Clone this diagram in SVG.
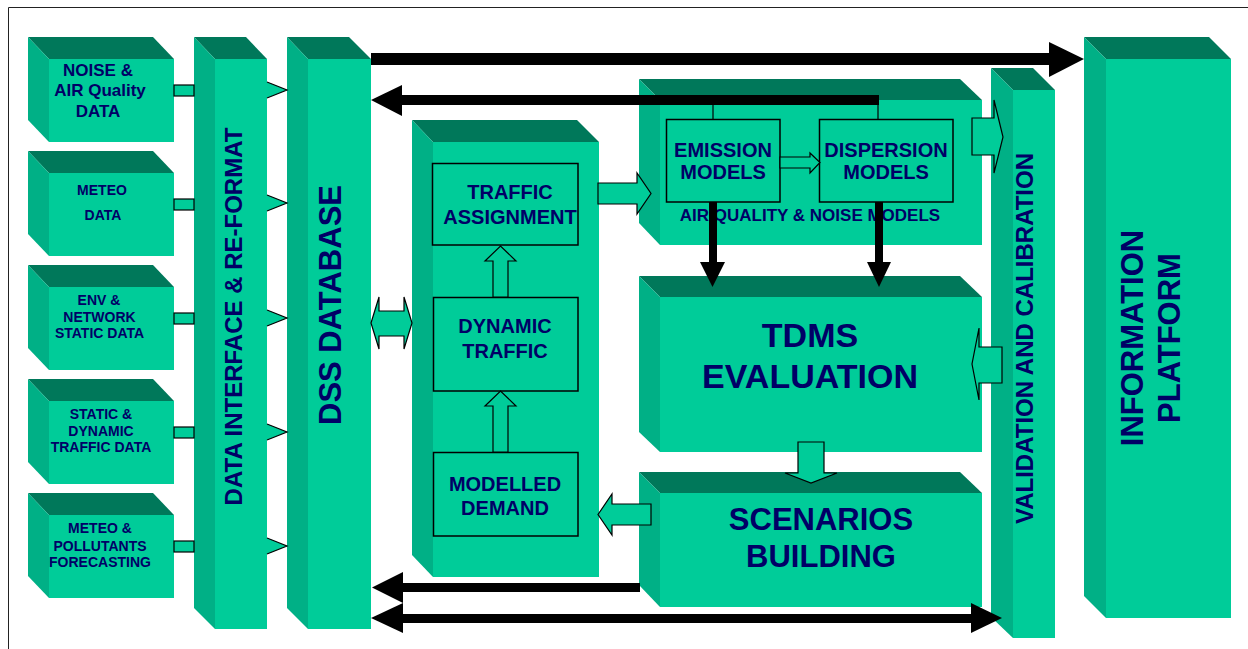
<svg xmlns="http://www.w3.org/2000/svg" width="1248" height="649" viewBox="0 0 1248 649">
<style>
.front{fill:#00CC99}
.top{fill:#00785A}
.side{fill:#00B086}
.inner{fill:#00CC99;stroke:#000;stroke-width:1.5}
.t{font-family:"Liberation Sans",Arial,sans-serif;font-weight:bold;fill:#000066;text-anchor:middle}
.ba{fill:#00CC99;stroke:#000;stroke-width:1.2;stroke-linejoin:miter}
.blk{fill:#000}
.thin{stroke:#000;stroke-width:1.2;fill:none}
</style>
<rect width="1248" height="649" fill="#fff"/>
<path d="M8.5,649 V7.5 H1248" fill="none" stroke="#222" stroke-width="1"/>

<g id="noise-air-data">
<polygon class="top" points="28,37 153,37 174,59 49,59"/>
<polygon class="side" points="28,37 49,59 49,142 28,120"/>
<rect class="front" x="49" y="59" width="125" height="83"/>
<text class="t" font-size="17"><tspan x="98" y="76">NOISE &amp;</tspan><tspan x="100" y="96">AIR Quality</tspan><tspan x="98" y="117">DATA</tspan></text>
</g>
<g id="meteo-data">
<polygon class="top" points="28,151 153,151 174,173 49,173"/>
<polygon class="side" points="28,151 49,173 49,256 28,234"/>
<rect class="front" x="49" y="173" width="125" height="83"/>
<text class="t" font-size="14"><tspan x="102" y="195">METEO</tspan><tspan x="103" y="220">DATA</tspan></text>
</g>
<g id="env-network-data">
<polygon class="top" points="28,265 153,265 174,287 49,287"/>
<polygon class="side" points="28,265 49,287 49,370 28,348"/>
<rect class="front" x="49" y="287" width="125" height="83"/>
<text class="t" font-size="14"><tspan x="99" y="305">ENV &amp;</tspan><tspan x="99.5" y="322">NETWORK</tspan><tspan x="99.5" y="338">STATIC DATA</tspan></text>
</g>
<g id="traffic-data">
<polygon class="top" points="28,379 153,379 174,401 49,401"/>
<polygon class="side" points="28,379 49,401 49,484 28,462"/>
<rect class="front" x="49" y="401" width="125" height="83"/>
<text class="t" font-size="14"><tspan x="101" y="419">STATIC &amp;</tspan><tspan x="101" y="436">DYNAMIC</tspan><tspan x="101" y="452">TRAFFIC DATA</tspan></text>
</g>
<g id="meteo-pollutants">
<polygon class="top" points="28,493 153,493 174,515 49,515"/>
<polygon class="side" points="28,493 49,515 49,598 28,576"/>
<rect class="front" x="49" y="515" width="125" height="83"/>
<text class="t" font-size="14"><tspan x="100" y="533">METEO &amp;</tspan><tspan x="100" y="551">POLLUTANTS</tspan><tspan x="100" y="567">FORECASTING</tspan></text>
</g>

<g id="data-interface">
<polygon class="top" points="194,37 246,37 267,59 215,59"/>
<polygon class="side" points="194,37 215,59 215,629 194,608"/>
<rect class="front" x="215" y="59" width="52" height="570"/>
<text class="t" font-size="24" transform="translate(242,316.5) rotate(-90)" x="0" y="0">DATA INTERFACE &amp; RE-FORMAT</text>
</g>
<g id="dss-database">
<polygon class="top" points="287,37 349,37 371,59 308,59"/>
<polygon class="side" points="287,37 308,59 308,629 287,608"/>
<rect class="front" x="308" y="59" width="63" height="570"/>
<text class="t" font-size="31" transform="translate(341,305) rotate(-90)" x="0" y="0">DSS DATABASE</text>
</g>

<g id="traffic-model">
<polygon class="top" points="412,120 577,120 599,142 433,142"/>
<polygon class="side" points="412,120 433,142 433,577 412,555"/>
<rect class="front" x="433" y="142" width="166" height="435"/>
</g>
<g id="traffic-assignment">
<rect class="inner" x="432.5" y="163.5" width="145.5" height="81.5"/>
<text class="t" font-size="20"><tspan x="510" y="199">TRAFFIC</tspan><tspan x="510" y="224">ASSIGNMENT</tspan></text>
</g>
<g id="dynamic-traffic">
<rect class="inner" x="433.5" y="297.5" width="144.5" height="93.5"/>
<text class="t" font-size="20"><tspan x="505" y="333">DYNAMIC</tspan><tspan x="505" y="358">TRAFFIC</tspan></text>
</g>
<g id="modelled-demand">
<rect class="inner" x="433.5" y="452.5" width="144.5" height="83.5"/>
<text class="t" font-size="20"><tspan x="505" y="491">MODELLED</tspan><tspan x="505" y="515">DEMAND</tspan></text>
</g>

<g id="air-quality-noise-models">
<polygon class="top" points="639,79 960,79 982,100 660,100"/>
<polygon class="side" points="639,79 660,100 660,245 639,223"/>
<rect class="front" x="660" y="100" width="322" height="145"/>
<text class="t" font-size="17" x="810" y="221">AIR QUALITY &amp; NOISE MODELS</text>
</g>
<g id="emission-models">
<rect class="inner" x="666.5" y="119.5" width="113.5" height="82.5"/>
<text class="t" font-size="20"><tspan x="723" y="157">EMISSION</tspan><tspan x="723" y="179">MODELS</tspan></text>
</g>
<g id="dispersion-models">
<rect class="inner" x="819.5" y="119.5" width="133.5" height="82.5"/>
<text class="t" font-size="20"><tspan x="886" y="157">DISPERSION</tspan><tspan x="886" y="179">MODELS</tspan></text>
</g>

<g id="tdms-evaluation">
<polygon class="top" points="639,276 960,276 982,297 660,297"/>
<polygon class="side" points="639,276 660,297 660,452 639,432"/>
<rect class="front" x="660" y="297" width="322" height="155"/>
<text class="t" font-size="34"><tspan x="810" y="347">TDMS</tspan><tspan x="810" y="388">EVALUATION</tspan></text>
</g>
<g id="scenarios-building">
<polygon class="top" points="639,472 960,472 982,493 660,493"/>
<polygon class="side" points="639,472 660,493 660,607 639,585"/>
<rect class="front" x="660" y="493" width="322" height="114"/>
<text class="t" font-size="31"><tspan x="821" y="530">SCENARIOS</tspan><tspan x="821" y="567">BUILDING</tspan></text>
</g>

<g id="validation-calibration">
<polygon class="top" points="991,68 1033,68 1055,90 1013,90"/>
<polygon class="side" points="991,68 1013,90 1013,638 991,617"/>
<rect class="front" x="1013" y="90" width="42" height="548"/>
<text class="t" font-size="24" transform="translate(1033,338.5) rotate(-90)" x="0" y="0">VALIDATION AND CALIBRATION</text>
</g>
<g id="information-platform">
<polygon class="top" points="1084,37 1209,37 1231,59 1106,59"/>
<polygon class="side" points="1084,37 1106,59 1106,618 1084,596"/>
<rect class="front" x="1106" y="59" width="125" height="559"/>
<text class="t" font-size="31" transform="translate(1143,338) rotate(-90)" x="0" y="0">INFORMATION</text>
<text class="t" font-size="31" transform="translate(1180,338) rotate(-90)" x="0" y="0">PLATFORM</text>
</g>

<g id="connectors">
<!-- data boxes to data interface -->
<rect class="ba" x="174" y="85" width="20" height="11"/>
<rect class="ba" x="174" y="199" width="20" height="11"/>
<rect class="ba" x="174" y="313" width="20" height="11"/>
<rect class="ba" x="174" y="427" width="20" height="11"/>
<rect class="ba" x="174" y="541" width="20" height="11"/>
<!-- data interface to DSS arrowheads -->
<g>
<polygon class="front" points="267,82 287,90 267,98"/><polyline class="thin" points="267,82 287,90 267,98"/>
<polygon class="front" points="267,195 287,203 267,211"/><polyline class="thin" points="267,195 287,203 267,211"/>
<polygon class="front" points="267,310 287,318 267,326"/><polyline class="thin" points="267,310 287,318 267,326"/>
<polygon class="front" points="267,424 287,432 267,440"/><polyline class="thin" points="267,424 287,432 267,440"/>
<polygon class="front" points="267,538 287,546 267,554"/><polyline class="thin" points="267,538 287,546 267,554"/>
</g>
<!-- DSS to information platform -->
<rect class="blk" x="371" y="53" width="679" height="12"/>
<polygon class="blk" points="1049,42 1084,59 1049,77"/>
<!-- models back to DSS -->
<rect class="blk" x="401" y="95" width="478" height="10"/>
<polygon class="blk" points="371,100 402,85 402,116"/>
<line class="thin" x1="713" y1="104" x2="713" y2="119"/>
<line class="thin" x1="878" y1="104" x2="878" y2="119"/>
<!-- DSS <-> traffic model -->
<polygon class="ba" points="371,323 379,297 379,311 404,311 404,297 412,323 404,349 404,336 379,336 379,349"/>
<!-- traffic internal -->
<polygon class="ba" points="493,297 493,261 485,261 500.5,246 516,261 508,261 508,297"/>
<polygon class="ba" points="493,452 493,406 485,406 500.5,391 516,406 508,406 508,452"/>
<!-- traffic to air quality -->
<polygon class="ba" points="598,183 637,183 637,173 651,193.5 637,214 637,204 598,204"/>
<!-- emission to dispersion -->
<polygon class="ba" points="780,157 810,157 810,153 820,162.5 810,173 810,168 780,168"/>
<!-- air quality to validation -->
<polygon class="ba" points="972,118 994,118 994,100 1003,137 994,173 994,155 972,155"/>
<!-- models down to TDMS -->
<rect class="blk" x="709" y="202" width="8" height="61"/>
<polygon class="blk" points="700,262 725,262 712.5,287"/>
<rect class="blk" x="875" y="202" width="8" height="61"/>
<polygon class="blk" points="867,262 891,262 879,287"/>
<!-- validation to TDMS -->
<polygon class="ba" points="1002,347 979,347 979,328 972,364 979,400 979,383 1002,383"/>
<!-- TDMS to scenarios -->
<polygon class="ba" points="798,442 824,442 824,473 837,473 811,483 785,473 798,473"/>
<!-- scenarios to modelled demand -->
<polygon class="ba" points="651,504 612,504 612,494 598,514.5 612,535 612,525 651,525"/>
<!-- scenarios to DSS -->
<rect class="blk" x="402" y="583" width="238" height="9"/>
<polygon class="blk" points="372,587.5 403,572 403,603"/>
<!-- DSS <-> validation -->
<rect class="blk" x="402" y="614" width="570" height="9"/>
<polygon class="blk" points="371,618 403,603 403,633"/>
<polygon class="blk" points="971,603 1002,618 971,633"/>
</g>
</svg>
